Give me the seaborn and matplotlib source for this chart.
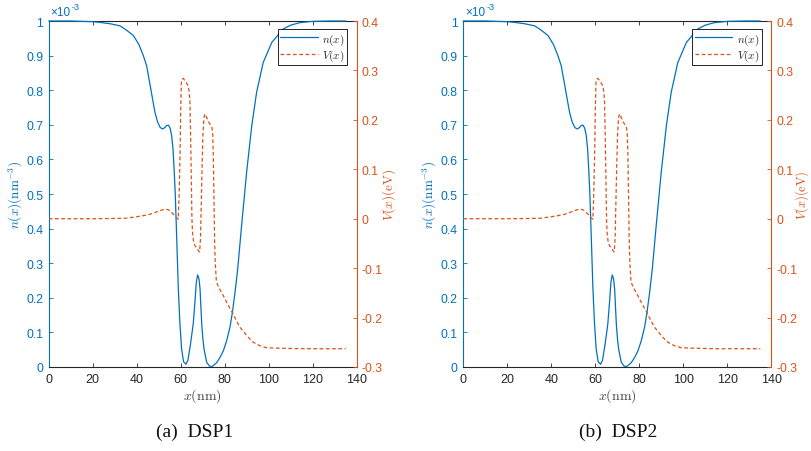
import numpy as np
import matplotlib
matplotlib.use("Agg")
import matplotlib.pyplot as plt
import seaborn as sns

# ---------------- data ----------------
x_n = [0, 10, 20, 23.3, 28, 32.4, 35.5, 38.5, 41, 43, 44.5, 46, 47.2, 48.3, 49.5,
       50.7, 51.8, 52.8, 53.6, 54.4, 55.2, 55.9, 56.5, 57.0, 57.5, 57.9, 58.4, 58.9,
       59.6, 60.4, 61.3, 62.4, 63.3, 64.5, 65.7, 66.5, 67.1, 67.7, 68.3, 68.8, 69.2,
       69.6, 70.1, 70.6, 71.8, 73.0, 74.1, 75.2, 76.4, 77.9, 79.4, 80.9, 82.4, 83.5,
       84.7, 85.9, 87.7, 90.0, 92.3, 94.5, 97.5, 101.4, 106.6, 110, 114, 120, 128,
       135]
n_vals = [1.0, 1.0, 0.998, 0.996, 0.992, 0.986, 0.973, 0.958, 0.932, 0.9, 0.871,
          0.818, 0.775, 0.736, 0.708, 0.692, 0.688, 0.692, 0.698, 0.699, 0.69, 0.668,
          0.63, 0.572, 0.505, 0.428, 0.33, 0.23, 0.13, 0.052, 0.015, 0.008, 0.02,
          0.068, 0.125, 0.19, 0.245, 0.266, 0.255, 0.225, 0.17, 0.12, 0.08, 0.052,
          0.014, 0.003, 0.001, 0.006, 0.013, 0.028, 0.047, 0.076, 0.115, 0.158,
          0.216, 0.283, 0.41, 0.565, 0.697, 0.794, 0.88, 0.938, 0.977, 0.988, 0.995,
          0.999, 1.0, 1.0]

x_V = [0, 20, 30, 35, 40, 44, 46, 48, 51, 52.9, 54.5, 55.6, 56.6, 57.8, 58.9, 59.3,
       59.7, 60.0, 60.3, 60.6, 61.1, 62.0, 63.4, 63.9, 64.2, 64.5, 64.8, 65.1, 65.4,
       65.8, 66.5, 67.5, 68.2, 68.6, 69.0, 69.3, 69.7, 70.1, 70.6, 71.0, 71.8, 72.5,
       73.5, 74.1, 74.5, 74.8, 75.1, 75.4, 75.7, 76.2, 76.6, 78.0, 79.4, 81.0, 83.5,
       85.5, 87.0, 90.7, 93.0, 96.0, 99.0, 105, 115, 125, 135]
V_vals = [0.0, 0.0, 0.0005, 0.001, 0.004, 0.007, 0.009, 0.012, 0.017, 0.0196, 0.018,
          0.014, 0.0095, 0.003, -0.001, 0.05, 0.13, 0.22, 0.275, 0.282, 0.284, 0.279,
          0.269, 0.255, 0.235, 0.17, 0.09, 0.0, -0.03, -0.045, -0.055, -0.06, -0.066,
          -0.067, -0.04, 0.02, 0.1, 0.17, 0.205, 0.212, 0.205, 0.197, 0.19, 0.185,
          0.175, 0.134, 0.05, -0.04, -0.09, -0.125, -0.132, -0.145, -0.156, -0.17,
          -0.19, -0.208, -0.22, -0.24, -0.25, -0.257, -0.261, -0.262, -0.263,
          -0.263, -0.263]

panels = ["(a)  DSP1", "(b)  DSP2"]
xticks = [0, 20, 40, 60, 80, 100, 120, 140]
nticks = [0, 0.1, 0.2, 0.3, 0.4, 0.5, 0.6, 0.7, 0.8, 0.9, 1]
vticks = [-0.3, -0.2, -0.1, 0, 0.1, 0.2, 0.3, 0.4]

# ---------------- style ----------------
sns.set_style("white")
plt.rcParams["font.family"] = ["Liberation Sans", "DejaVu Sans"]
plt.rcParams["mathtext.fontset"] = "cm"
plt.rcParams["axes.unicode_minus"] = False

BLUE = "#0072BD"
ORANGE = "#D95319"
GREY = "#262626"

fig = plt.figure(figsize=(8.11, 4.52), dpi=100)
lefts = [48.7 / 811, 463.3 / 811]
width = 308.0 / 811
bottom = 1 - 368 / 452
height = 346 / 452
cap_x = [195 / 811, 618 / 811]
vlabel_pad = [-1.5, -3.0]
vlabel_size = [9.5, 9.0]

for i in range(2):
    ax = fig.add_axes([lefts[i], bottom, width, height])
    ax2 = ax.twinx()
    sns.lineplot(x=x_n, y=n_vals, ax=ax, color=BLUE, linewidth=0.9,
                 sort=False, estimator=None, label=r"$n(x)$", legend=False)
    sns.lineplot(x=x_V, y=V_vals, ax=ax2, color=ORANGE, linewidth=0.9,
                 sort=False, estimator=None, label=r"$V(x)$", legend=False)
    ax2.lines[0].set_linestyle((0, (3.0, 2.0)))
    ax.lines[0].set_clip_on(False)
    ax.lines[0].set_zorder(3)

    ax.set_xlim(0, 140)
    ax.set_ylim(0, 1)
    ax2.set_ylim(-0.3, 0.4)
    ax.set_xticks(xticks)
    ax.set_xticklabels([str(t) for t in xticks])
    ax.set_yticks(nticks)
    ax.set_yticklabels(["0", "0.1", "0.2", "0.3", "0.4", "0.5", "0.6", "0.7",
                        "0.8", "0.9", "1"])
    ax2.set_yticks(vticks)
    ax2.set_yticklabels(["-0.3", "-0.2", "-0.1", "0", "0.1", "0.2", "0.3", "0.4"])

    ax.tick_params(axis="x", direction="in", length=3, width=0.6, colors=GREY,
                   labelsize=9, top=True, bottom=True, pad=4)
    ax.tick_params(axis="y", direction="in", length=3, width=0.6, colors=BLUE,
                   labelsize=8.8, left=True, right=False, pad=4)
    ax2.tick_params(axis="y", direction="in", length=3, width=0.6, colors=ORANGE,
                    labelsize=8.8, right=True, left=False, pad=3.5)

    for s in ["top", "bottom"]:
        ax.spines[s].set_color(GREY)
        ax.spines[s].set_linewidth(0.8)
        ax2.spines[s].set_visible(False)
    ax.spines["left"].set_color(BLUE)
    ax.spines["left"].set_linewidth(0.8)
    ax.spines["right"].set_visible(False)
    ax2.spines["left"].set_visible(False)
    ax2.spines["right"].set_color(ORANGE)
    ax2.spines["right"].set_linewidth(0.8)

    ax.set_xlabel(r"$x(\mathrm{nm})$", fontsize=10, color="#404040", labelpad=1)
    ax.set_ylabel(r"$n(x)(\mathrm{nm}^{-3})$", fontsize=9.5, color=BLUE,
                  labelpad=1)
    ax2.set_ylabel(r"$V(x)(\mathrm{eV})$", fontsize=vlabel_size[i], color=ORANGE,
                   labelpad=vlabel_pad[i], rotation=90)

    # exponent label
    ax.text(0.005, 1.008, "×10", transform=ax.transAxes, fontsize=8.5, color=BLUE,
            ha="left", va="bottom")
    ax.text(0.075, 1.03, "-3", transform=ax.transAxes, fontsize=6.5, color=BLUE,
            ha="left", va="bottom")

    h1, l1 = ax.get_legend_handles_labels()
    h2, l2 = ax2.get_legend_handles_labels()
    leg = ax2.legend(h1 + h2, l1 + l2, loc="upper right",
                     bbox_to_anchor=((347 - 48.7) / 308, (368 - 30) / 346),
                     fontsize=8, frameon=True, fancybox=False, framealpha=1,
                     edgecolor="black", handlelength=3.4, handletextpad=0.4,
                     borderpad=0.2, labelspacing=0.1, borderaxespad=0)
    leg.get_frame().set_linewidth(0.6)

    fig.text(cap_x[i], 0.044, panels[i], ha="center", va="center", fontsize=14,
             family=["Liberation Serif", "DejaVu Serif"], color="#111111")

fig.savefig("out.png", dpi=100)
